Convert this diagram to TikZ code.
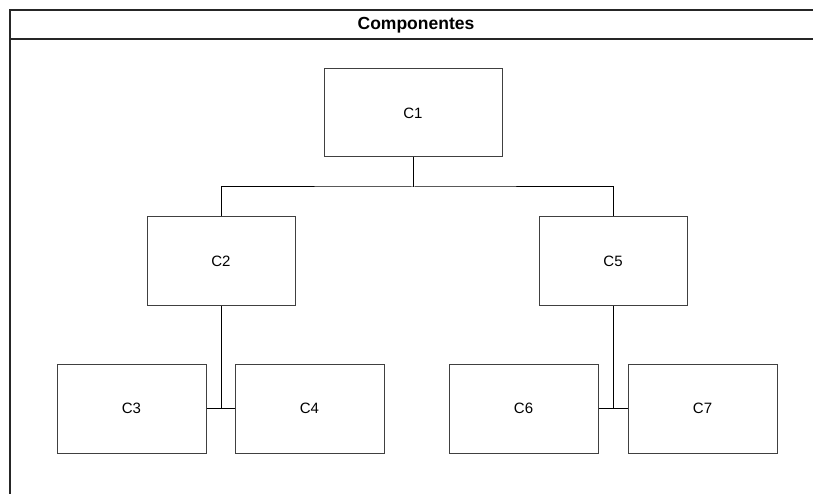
\documentclass[tikz,border=0pt]{standalone}
\usepackage{fontspec}
\setmainfont{Liberation Sans}
\begin{document}
\begin{tikzpicture}[x=1pt,y=-1pt,
  comp/.style={draw=black!75, line width=1pt, fill=white, inner sep=0pt,
    font=\fontsize{15}{18}\selectfont},
  link/.style={draw=black, line width=1pt},
  frameline/.style={draw=black!85, line width=1.3pt}]
\useasboundingbox (0,0) rectangle (813,494);
\fill[white] (0,0) rectangle (813,494);
% container with title bar
\draw[frameline] (813,10) -- (10,10) -- (10,494);
\draw[frameline] (10,39) -- (813,39);
\node[font=\bfseries\fontsize{17.5}{20}\selectfont] (title) at (416,25) {Componentes};
% components
\node[comp, minimum width=178pt, minimum height=88pt] (c1) at (413,113) {C1};
\node[comp, minimum width=148pt, minimum height=88pt] (c2) at (221,261) {C2};
\node[comp, minimum width=148pt, minimum height=88pt] (c5) at (613,261) {C5};
\node[comp, minimum width=149pt, minimum height=89pt] (c3) at (131.5,408.5) {C3};
\node[comp, minimum width=149pt, minimum height=89pt] (c4) at (309.5,408.5) {C4};
\node[comp, minimum width=149pt, minimum height=89pt] (c6) at (523.5,408.5) {C6};
\node[comp, minimum width=149pt, minimum height=89pt] (c7) at (702.5,408.5) {C7};
% tree connectors
\coordinate (bus) at (413,187);
\draw[link] (c1.south) -- (bus);
\draw[link] (c2.north) |- (bus) -| (c5.north);
\draw[link] (c2.south) -- (c2.south |- c3.east);
\draw[link] (c3.east) -- (c4.west);
\draw[link] (c5.south) -- (c5.south |- c6.east);
\draw[link] (c6.east) -- (c7.west);
\end{tikzpicture}
\end{document}
